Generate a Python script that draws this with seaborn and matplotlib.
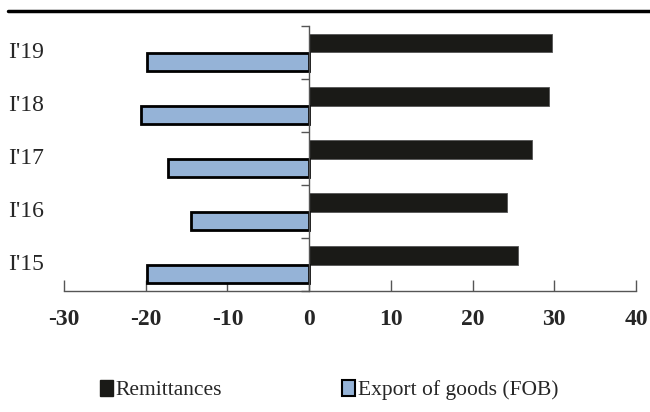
import numpy as np
import matplotlib
matplotlib.use("Agg")
import matplotlib.pyplot as plt
import matplotlib.transforms as mtransforms
from matplotlib.lines import Line2D
from matplotlib.patches import Patch
import pandas as pd
import seaborn as sns

# Datos
periodos = ["I'19", "I'18", "I'17", "I'16", "I'15"]
remesas = [29.7, 29.3, 27.3, 24.2, 25.5]
exportaciones = [-19.9, -20.6, -17.3, -14.5, -19.8]
series = ["Remittances", "Export of goods (FOB)"]
xticks = [-30, -20, -10, 0, 10, 20, 30, 40]

negro = "#1a1a17"
azul = "#95b3d7"

# Tabla en formato largo para seaborn
df = pd.DataFrame({
    "periodo": periodos * 2,
    "valor": remesas + exportaciones,
    "serie": [series[0]] * len(periodos) + [series[1]] * len(periodos),
})

sns.set_style("white")
plt.rcParams["font.family"] = ["Liberation Serif", "DejaVu Serif"]

fig = plt.figure(figsize=(6.5, 4.12), dpi=100)
ax = fig.add_axes([64 / 650, 1 - 291 / 412, 572 / 650, 265 / 412])

sns.barplot(data=df, x="valor", y="periodo", hue="serie", order=periodos,
            hue_order=series, palette=[negro, azul], orient="h", width=0.7,
            dodge=True, legend=False, ax=ax, saturation=1)

# Bordes de las barras
for barra in ax.patches:
    if barra.get_facecolor()[2] > 0.5:
        barra.set_edgecolor("black")
        barra.set_linewidth(2)
    else:
        barra.set_edgecolor("#555555")
        barra.set_linewidth(0.6)

ax.set_xlim(-30, 40)
ax.set_ylim(4.5, -0.5)
ax.set_xlabel("")
ax.set_ylabel("")

# Ejes
for lado in ["top", "right"]:
    ax.spines[lado].set_visible(False)
ax.spines["left"].set_position(("data", 0))
ax.spines["left"].set_color("#555555")
ax.spines["left"].set_linewidth(1)
ax.spines["bottom"].set_color("#555555")
ax.spines["bottom"].set_linewidth(1)

ax.set_xticks(xticks)
ax.set_xticklabels([str(t) for t in xticks], fontweight="bold", fontsize=17)
ax.tick_params(axis="x", direction="in", length=8, width=1, color="#555555",
               pad=13, bottom=True)
ax.set_yticks(np.arange(-0.5, len(periodos), 1.0))
ax.set_yticklabels([])
ax.tick_params(axis="y", direction="out", length=6, width=1, color="#555555",
               left=True)

# Etiquetas de las categorias a la izquierda
trans = mtransforms.blended_transform_factory(ax.transAxes, ax.transData)
for i, p in enumerate(periodos):
    ax.text(-56 / 572, i, p, transform=trans, ha="left", va="center",
            fontsize=17)

# Linea superior
fig.add_artist(Line2D([8 / 650, 1], [1 - 11 / 412] * 2, color="black",
                      lw=2.5))

# Leyenda
handles = [Patch(facecolor=negro, edgecolor=negro),
           Patch(facecolor=azul, edgecolor="black", linewidth=1.5)]
fig.legend(handles, series, loc="center", bbox_to_anchor=(0.506, 1 - 390 / 412),
           ncol=2, frameon=False, fontsize=15.5, handlelength=0.6,
           handleheight=0.8, handletextpad=0.12, columnspacing=5.6)

fig.savefig("out.png", dpi=100)
